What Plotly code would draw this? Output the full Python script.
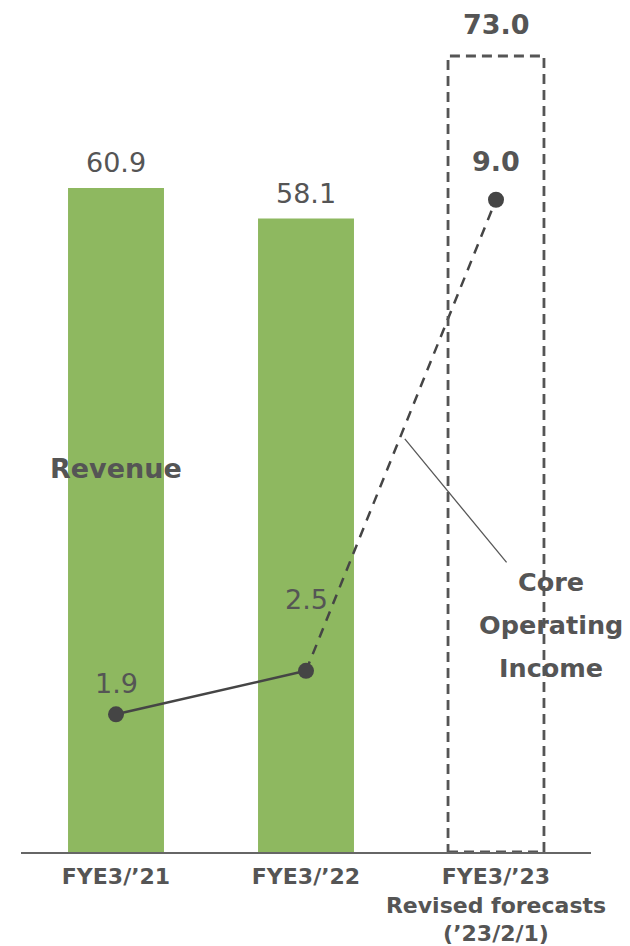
import plotly.graph_objects as go

# data
categories = ["FYE3/’21", "FYE3/’22", "FYE3/’23<br>Revised forecasts<br>(’23/2/1)"]
revenue = [60.9, 58.1, 73.0]
core_income = [1.9, 2.5, 9.0]
revenue_labels = ["60.9", "58.1", "73.0"]
income_labels = ["1.9", "2.5", "9.0"]

GREEN = "#8EB860"
GRAY = "#555555"
LINE = "#454545"
FONT = "DejaVu Sans"

fig = go.Figure()

# revenue bars (forecast bar drawn as dashed outline below)
fig.add_trace(go.Bar(
    x=categories,
    y=revenue,
    marker=dict(color=[GREEN, GREEN, "rgba(0,0,0,0)"], line=dict(width=0)),
    width=0.505,
    hoverinfo="skip",
))

# core operating income: actuals solid, forecast dashed
fig.add_trace(go.Scatter(
    x=categories[1:], y=core_income[1:], yaxis="y2",
    mode="lines", line=dict(color=LINE, width=2.5, dash="10px,8px"),
))
fig.add_trace(go.Scatter(
    x=categories[:2], y=core_income[:2], yaxis="y2",
    mode="lines", line=dict(color=LINE, width=2.5),
))
fig.add_trace(go.Scatter(
    x=categories, y=core_income, yaxis="y2",
    mode="markers", marker=dict(color=LINE, size=16),
))

# dashed outline for forecast revenue
fig.add_shape(
    type="rect", xref="x", yref="y",
    x0=2 - 0.2525, x1=2 + 0.2525, y0=0, y1=revenue[2],
    line=dict(color=GRAY, width=2.8, dash="10px,6px"),
    fillcolor="rgba(0,0,0,0)",
)

annotations = []
# revenue value labels
for i, (v, t) in enumerate(zip(revenue, revenue_labels)):
    bold = i == 2
    annotations.append(dict(
        x=i, y=v, xref="x", yref="y", text=f"<b>{t}</b>" if bold else t,
        showarrow=False, yanchor="middle", yshift=31 if bold else 25,
        font=dict(size=27, color=GRAY, family=FONT),
    ))
# income value labels
shifts = [31, 71, 38]
for i, (v, t) in enumerate(zip(core_income, income_labels)):
    bold = i == 2
    annotations.append(dict(
        x=i, y=v, xref="x", yref="y2", text=f"<b>{t}</b>" if bold else t,
        showarrow=False, yanchor="middle", yshift=shifts[i],
        font=dict(size=27, color=GRAY, family=FONT),
    ))

# series names
annotations.append(dict(
    x=0, y=35.2, xref="x", yref="y", text="<b>Revenue</b>", showarrow=False,
    font=dict(size=27, color=GRAY, family=FONT),
))
for k, word in enumerate(["Core", "Operating", "Income"]):
    annotations.append(dict(
        x=551, y=582 + 43 * k, xref="paper", yref="paper", text=f"<b>{word}</b>",
        showarrow=False, xanchor="center", yanchor="middle",
        font=dict(size=25.5, color=GRAY, family=FONT),
    ))
# leader line
annotations.append(dict(
    x=1.52, y=5.7, xref="x", yref="y2", text="", showarrow=True,
    arrowhead=0, arrowwidth=1.3, arrowcolor="#595959", ax=103, ay=125,
))

# page body has an 8px margin, so size the figure to fit the window
PAD = 8
W, H = 630 - PAD, 946 - PAD
ML, MR, MT, MB = 21 - PAD, 39, 20 - PAD, 94
pw, ph = W - ML - MR, H - MT - MB
for a in annotations:
    if a.get("xref") == "paper":
        a["x"] = (a["x"] - PAD - ML) / pw
        a["y"] = 1 - (a["y"] - PAD - MT) / ph

fig.update_layout(
    width=W, height=H,
    margin=dict(l=ML, r=MR, t=MT, b=MB),
    template="plotly_white",
    plot_bgcolor="white", paper_bgcolor="white",
    showlegend=False,
    annotations=annotations,
    font=dict(family=FONT, color=GRAY),
    xaxis=dict(
        type="category", showgrid=False, zeroline=False, automargin=False,
        showline=True, linecolor="#666666", linewidth=1.5,
        tickfont=dict(size=22, color=GRAY, family="DejaVu Sans"),
        tickprefix="<b>", ticksuffix="</b>", ticklabelstandoff=4,
    ),
    yaxis=dict(range=[0, 76.3], visible=False, showgrid=False, automargin=False),
    yaxis2=dict(range=[0, 11.48], visible=False, overlaying="y", showgrid=False,
                automargin=False),
)

fig.write_html("out.html")
